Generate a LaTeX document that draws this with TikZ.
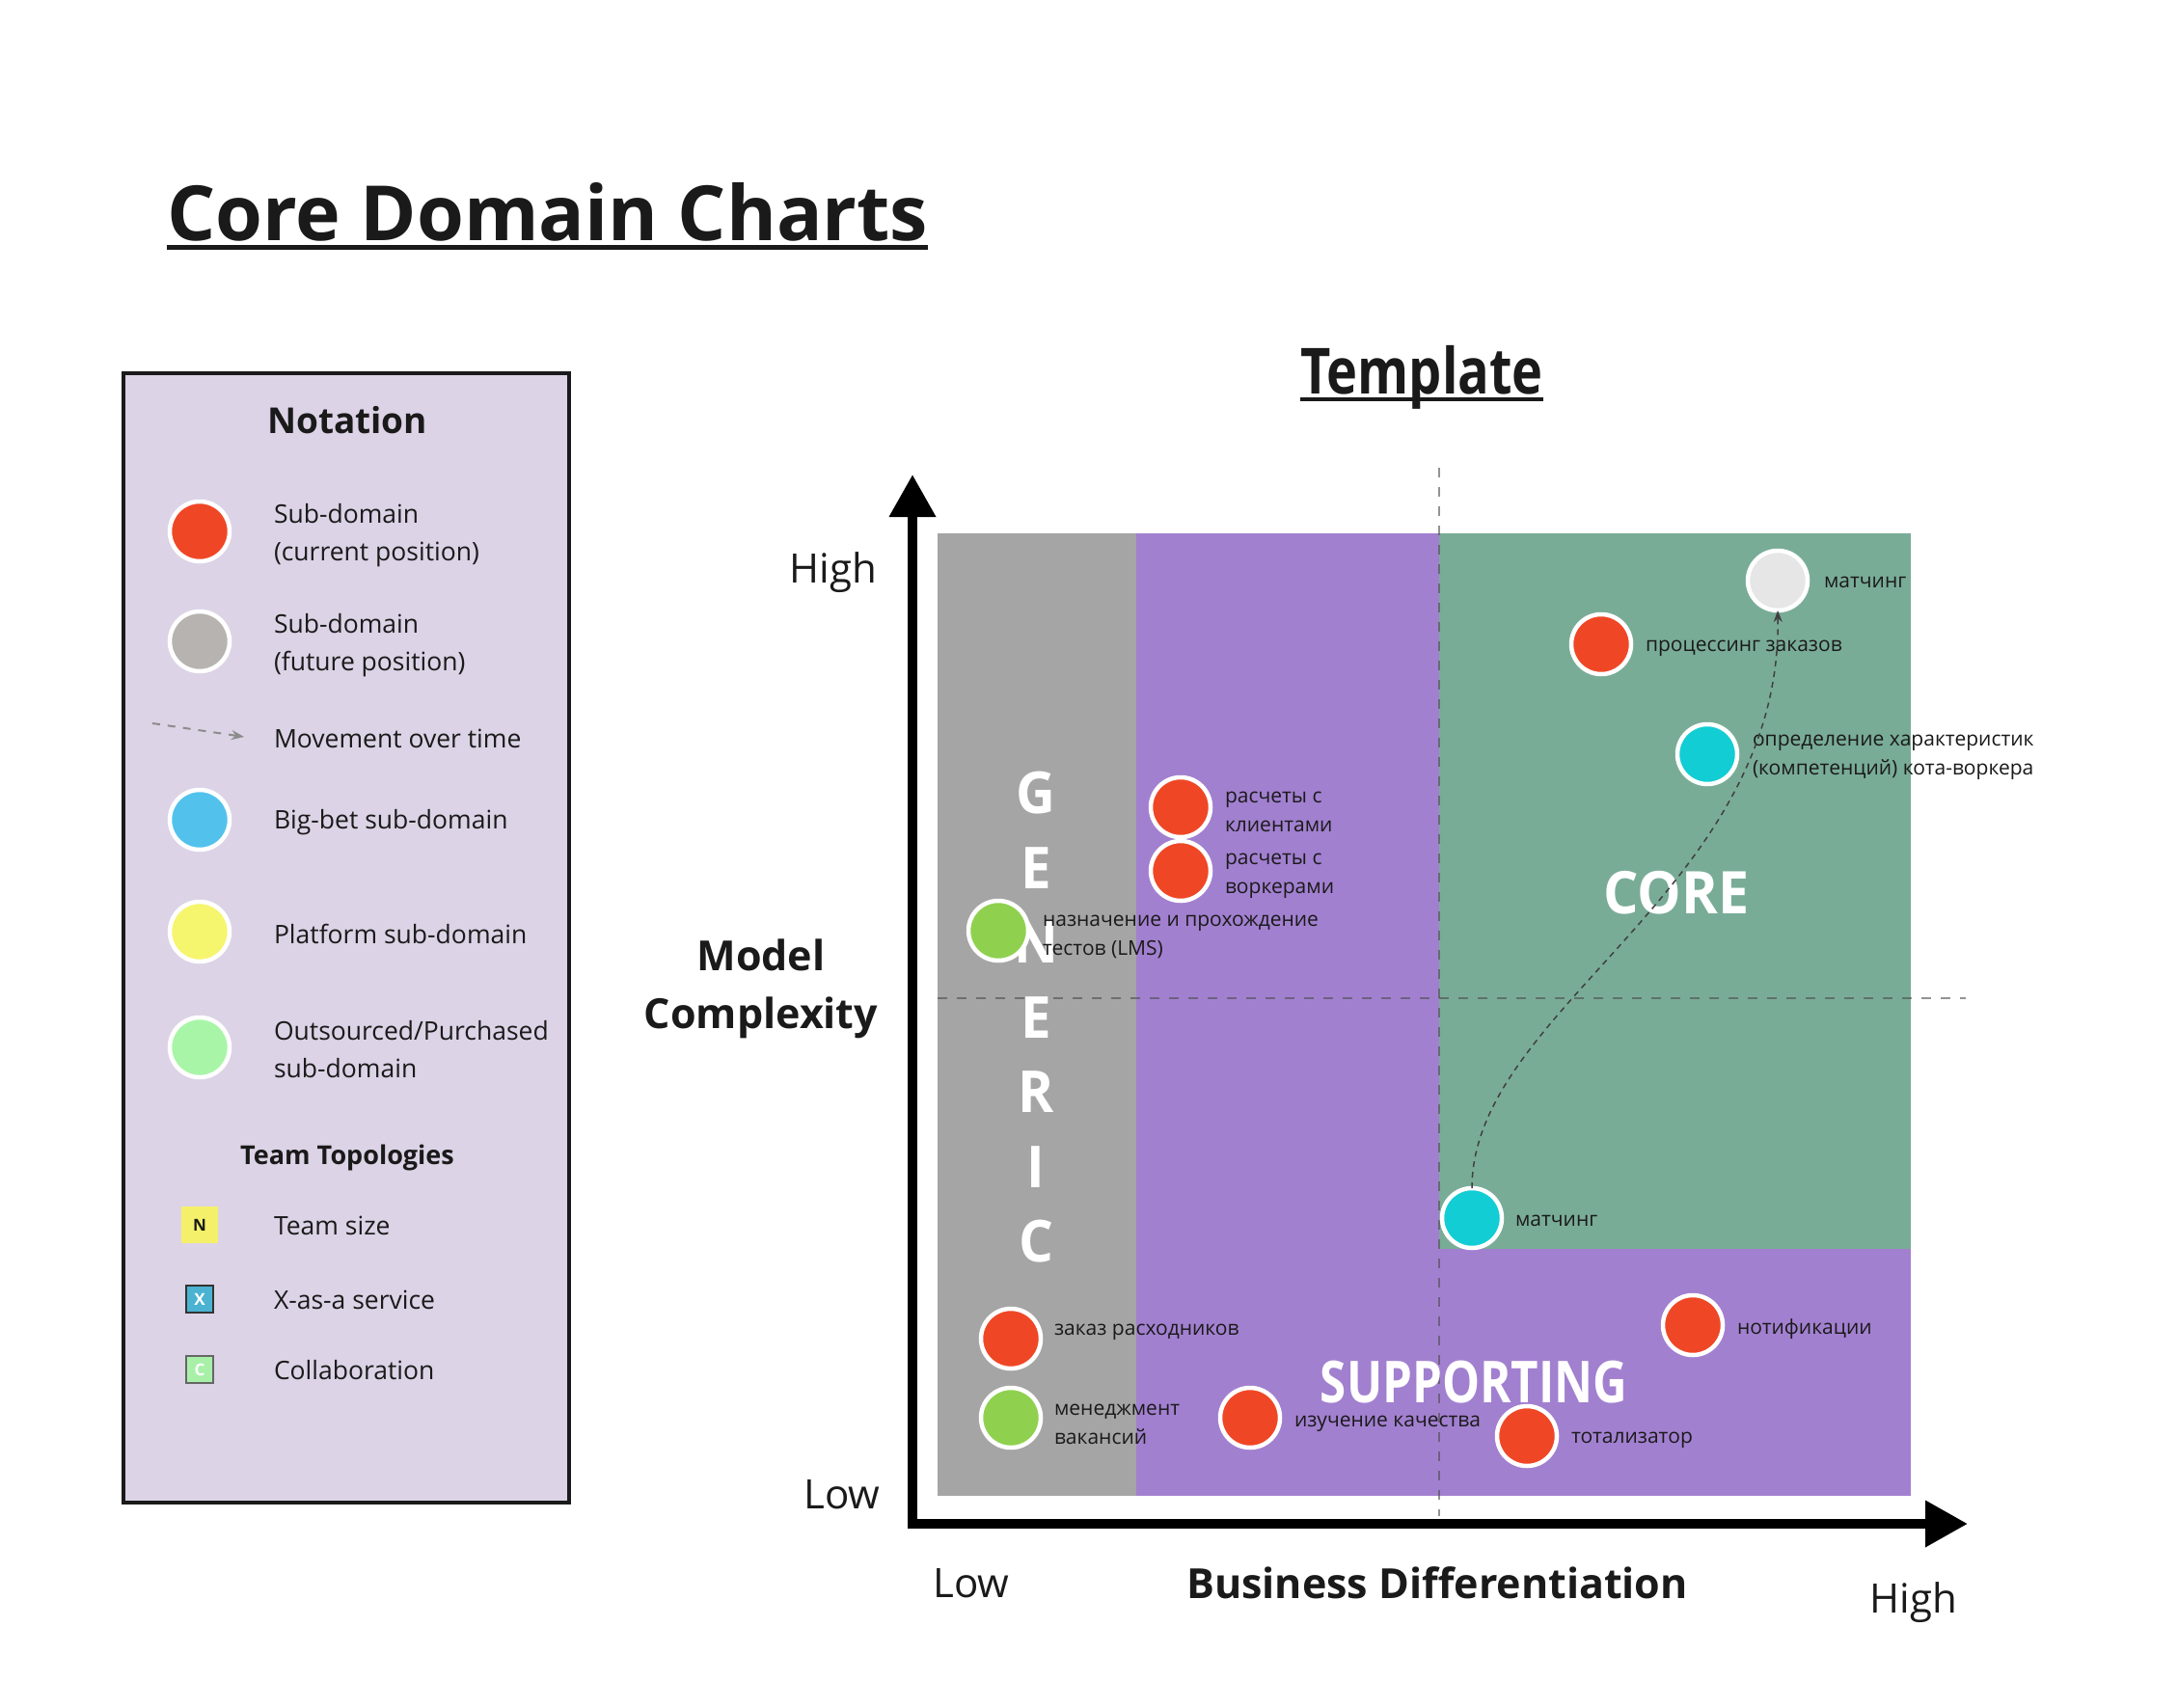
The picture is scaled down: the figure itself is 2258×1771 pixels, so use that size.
\documentclass[tikz,border=0pt]{standalone}
\usepackage{fontspec}
\setmainfont{Open Sans}
\newfontfamily\condf{Open Sans}[FakeStretch=0.82]
\newfontfamily\condg{Open Sans}[FakeStretch=0.94]
\usetikzlibrary{arrows.meta}
\definecolor{txt}{HTML}{1A1A1A}
\definecolor{cred}{HTML}{EF4726}
\definecolor{cgreyl}{HTML}{B7B3B1}
\definecolor{cblue}{HTML}{52C2EC}
\definecolor{cyel}{HTML}{F6F56E}
\definecolor{clgreen}{HTML}{A8F5A8}
\definecolor{cgreen}{HTML}{8FD14F}
\definecolor{ccyan}{HTML}{12CDD4}
\definecolor{cfut}{HTML}{E6E6E6}
\definecolor{legfill}{HTML}{DCD3E6}
\definecolor{rgrey}{HTML}{A5A5A5}
\definecolor{rpurple}{HTML}{A280D0}
\definecolor{rgreen}{HTML}{79AC97}
\definecolor{tyel}{HTML}{F5F06A}
\definecolor{tblue}{HTML}{4BB2D2}
\definecolor{tgreen}{HTML}{A8F0A8}
\begin{document}
\begin{tikzpicture}[x=1pt,y=-1pt,
  every node/.style={inner sep=0pt, outer sep=0pt, text=txt},
  ltext/.style={anchor=west, align=left, font=\fontsize{26.5}{39}\selectfont},
  lcirc/.style={circle, minimum size=62pt, draw=white, line width=4.5pt},
  dot/.style={circle, minimum size=62pt, draw=white, line width=4.5pt},
  ctext/.style={anchor=west, align=left, font=\fontsize{21}{30}\selectfont},
  axlabel/.style={font=\fontsize{42}{50}\selectfont},
  axtitle/.style={align=center, font=\fontsize{43}{60}\selectfont\bfseries},
  bigword/.style={text=white, align=center, font=\fontsize{60}{77.5}\selectfont\condf\bfseries},
  tsq/.style={minimum size=#1, font=\fontsize{17}{17}\selectfont\bfseries},
  axisline/.style={line width=10pt, -{Triangle[length=44pt,width=46pt]}},
  guide/.style={draw=black!70, opacity=0.6, line width=2pt, dash pattern=on 10pt off 10pt},
  movecurve/.style={draw=black!75, line width=1.5pt, dash pattern=on 6pt off 5pt, -{Stealth[length=12pt,width=9pt]}},
  legarrow/.style={draw=black!45, line width=2pt, dash pattern=on 8pt off 8pt, -{Stealth[length=13pt,width=10pt]}}
]
\path[use as bounding box, fill=white] (0,0) rectangle (2258,1771);

% Title
\node[anchor=base west, font=\fontsize{79}{90}\selectfont\bfseries] (title) at (173,250) {Core Domain Charts};
\draw[line width=5pt, txt] ([yshift=-7pt]title.base west) -- ([yshift=-7pt]title.base east);

% Legend
\node[draw=txt, fill=legfill, line width=4pt, minimum width=462pt, minimum height=1171pt] (legend) at (359,972.5) {};
\node[font=\fontsize{37}{40}\selectfont\bfseries] (nottitle) at (360,436) {Notation};
\node[lcirc, fill=cred] (l1) at (207,551) {};
\node[ltext] (l1t) at (284,555) {Sub-domain\\(current position)};
\node[lcirc, fill=cgreyl] (l2) at (207,665) {};
\node[ltext] (l2t) at (284,669) {Sub-domain\\(future position)};
\coordinate (la) at (158,750);
\coordinate (lb) at (253,764);
\draw[legarrow] (la) -- (lb);
\node[ltext] (l3t) at (284,766) {Movement over time};
\node[lcirc, fill=cblue] (l4) at (207,850) {};
\node[ltext] (l4t) at (284,853) {Big-bet sub-domain};
\node[lcirc, fill=cyel] (l5) at (207,966) {};
\node[ltext] (l5t) at (284,968) {Platform sub-domain};
\node[lcirc, fill=clgreen] (l6) at (207,1086) {};
\node[ltext] (l6t) at (284,1088) {Outsourced/Purchased\\sub-domain};
\node[font=\fontsize{27}{30}\selectfont\bfseries] (tttitle) at (360,1200) {Team Topologies};
\node[tsq=38pt, fill=tyel] (t1) at (207,1270) {N};
\node[ltext] (t1t) at (284,1271) {Team size};
\node[tsq=28pt, fill=tblue, draw=black!80, line width=1.5pt, text=white] (t2) at (207,1347) {X};
\node[ltext] (t2t) at (284,1348) {X-as-a service};
\node[tsq=28pt, fill=tgreen, draw=black!60, line width=1.5pt, text=white] (t3) at (207,1420) {C};
\node[ltext] (t3t) at (284,1421) {Collaboration};

% Template title
\node[anchor=base, font=\fontsize{66}{70}\selectfont\condf\bfseries] (tmpl) at (1474,408) {Template};
\draw[line width=4pt, txt] ([yshift=-6pt]tmpl.base west) -- ([yshift=-6pt]tmpl.base east);

% Regions
\fill[rgrey] (972,553) rectangle (1178,1551);
\fill[rpurple] (1178,553) rectangle (1981,1551);
\fill[rgreen] (1492,553) rectangle (1981,1295);

% Guides
\coordinate (vg1) at (1492,485);
\coordinate (vg2) at (1492,1572);
\coordinate (hg1) at (972,1035);
\coordinate (hg2) at (2038,1035);
\draw[guide] (vg1) -- (vg2);
\draw[guide] (hg1) -- (hg2);

% Axes
\coordinate (orig) at (946,1580);
\coordinate (ytip) at (946,492);
\coordinate (xtip) at (2040,1580);
\draw[axisline] ([yshift=5pt]orig) -- (ytip);
\draw[axisline] ([xshift=-5pt]orig) -- (xtip);

% Axis labels
\node[axlabel] (yhigh) at (864,594) {High};
\node[axlabel] (ylow) at (873,1550) {Low};
\node[axtitle] (ytitle) at (789,1025) {Model\\Complexity};
\node[axlabel] (xlow) at (1007,1642) {Low};
\node[axtitle] (xtitle) at (1490,1641) {Business Differentiation};
\node[axlabel] (xhigh) at (1984,1662) {High};

% Big words
\node[bigword, font=\fontsize{60}{77.5}\selectfont\condg\bfseries] (generic) at (1074,1055) {G\\E\\N\\E\\R\\I\\C};
\node[bigword, font=\fontsize{61}{70}\selectfont\condg\bfseries] (core) at (1738,926) {CORE};
\node[bigword] (supp) at (1528,1433) {SUPPORTING};

% Sub-domains
\node[dot, fill=cgreen] (lms) at (1035,965) {};
\node[ctext] (lmst) at (1081,971) {назначение и прохождение\\тестов (LMS)};
\node[dot, fill=cred] (clients) at (1224,837) {};
\node[ctext] (clientst) at (1270,842) {расчеты с\\клиентами};
\node[dot, fill=cred] (workers) at (1224,903) {};
\node[ctext] (workerst) at (1270,908) {расчеты с\\воркерами};
\node[dot, fill=cfut] (matchf) at (1843,602) {};
\node[ctext] (matchft) at (1891,604) {матчинг};
\node[dot, fill=cred] (orders) at (1660,668) {};
\node[ctext] (orderst) at (1706,672) {процессинг заказов};
\node[dot, fill=ccyan] (skills) at (1770,782) {};
\node[ctext] (skillst) at (1817,785) {определение характеристик\\(компетенций) кота-воркера};
\node[dot, fill=ccyan] (matchc) at (1526,1263) {};
\node[ctext] (matchct) at (1571,1266) {матчинг};
\node[dot, fill=cred] (supplies) at (1048,1388) {};
\node[ctext] (suppliest) at (1093,1381) {заказ расходников};
\node[dot, fill=cgreen] (vacancies) at (1048,1470) {};
\node[ctext] (vacanciest) at (1093,1477) {менеджмент\\вакансий};
\node[dot, fill=cred] (quality) at (1296,1470) {};
\node[ctext] (qualityt) at (1342,1476) {изучение качества};
\node[dot, fill=cred] (notif) at (1755,1374) {};
\node[ctext] (notift) at (1801,1378) {нотификации};
\node[dot, fill=cred] (toto) at (1583,1489) {};
\node[ctext] (totot) at (1629,1493) {тотализатор};

% Movement
\draw[movecurve] (matchc.north) .. controls (1526,1047) and (1848,922) .. (matchf.south);
\end{tikzpicture}
\end{document}
